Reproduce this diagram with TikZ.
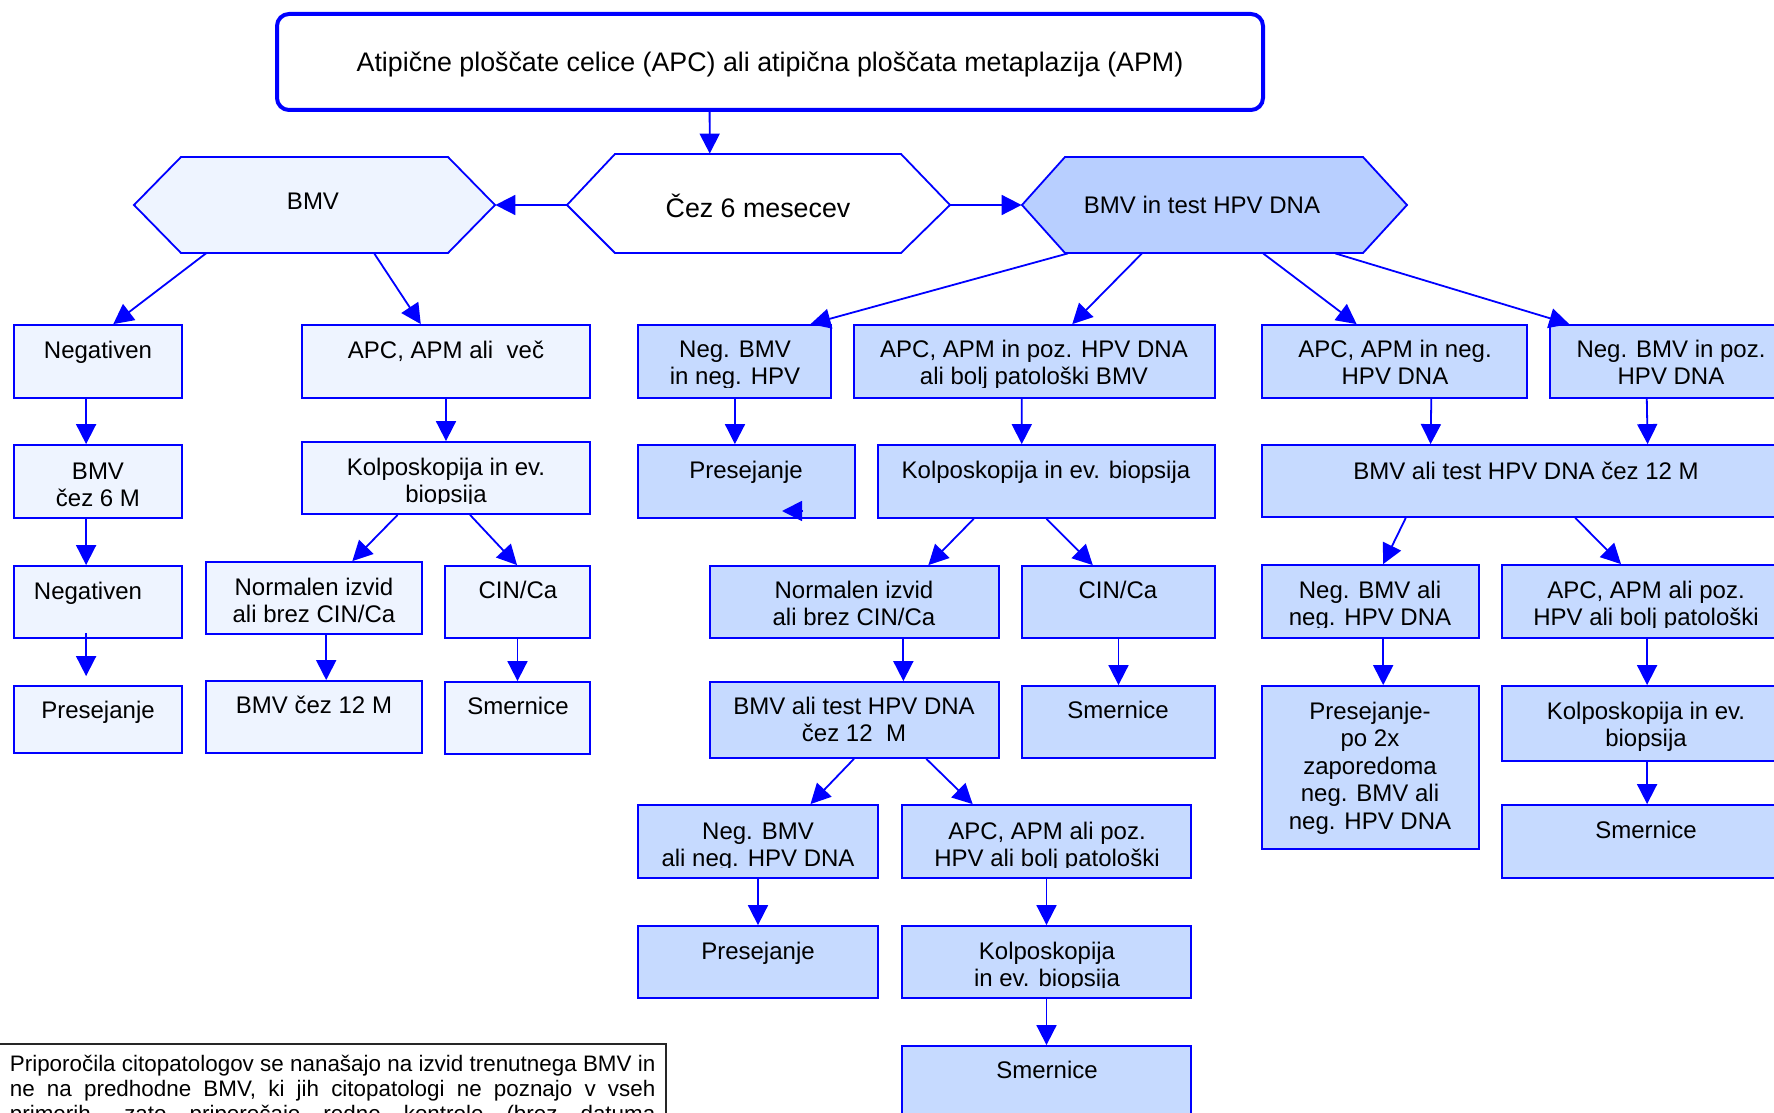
\documentclass[tikz,border=0pt]{standalone}
\usepackage{fontspec}
\setmainfont{Liberation Sans}
\usetikzlibrary{fit,calc,arrows.meta}

\definecolor{linkblue}{RGB}{0,0,255}
\definecolor{paleblue}{HTML}{EEF4FF}
\definecolor{fillblue}{HTML}{C6DAFF}
\definecolor{hexblue}{HTML}{B8CFFF}

% points along the lower / upper edge of a box
\newcommand\onS[2]{($(#1.south west)!#2!(#1.south east)$)}
\newcommand\onN[2]{($(#1.north west)!#2!(#1.north east)$)}

% text set from the top of a box, cut off at the box's inner frame
% #1 box, #2 x, #3 first baseline, #4 number of lines, #5 text
\newcommand\boxlabel[5]{%
  \begin{scope}
    \clip ([yshift=5.5pt]#1.south west) rectangle (#1.north east);
    \node[btxt] (#1txt) at (#2,{#3+(#4-1)*27.6}) {#5};
  \end{scope}}

\tikzset{
  frame/.style={draw=linkblue, line width=0.9pt, inner sep=0pt},
  palebox/.style={frame, fill=paleblue},
  bluebox/.style={frame, fill=fillblue},
  btxt/.style={font=\fontsize{12}{13.8}\selectfont, align=center, inner sep=0pt, anchor=base},
  hextxt/.style={inner sep=0pt},
  flowarrow/.style={draw=linkblue, line width=0.9pt, -{Triangle[length=10pt,width=10pt]}},
}

\begin{document}
\begin{tikzpicture}[x=0.5pt, y=-0.5pt]
\useasboundingbox (0,0) rectangle (1774,1113);
\clip (0,0) rectangle (1774,1113);

% ---------- heading ----------
\node[draw=linkblue, line width=2pt, rounded corners=6pt, fill=white, inner sep=0pt,
      fit={(277,14)(1263,110)}] (title) {};
\node[inner sep=0pt, font=\fontsize{13.4}{16}\selectfont] (titletxt) at (770,65)
  {Atipične ploščate celice (APC) ali atipična ploščata metaplazija (APM)};

% ---------- hexagons ----------
\filldraw[frame, fill=paleblue] (134,205) -- (181,157) -- (448,157) -- (495,205) -- (448,253) -- (181,253) -- cycle;
\node[inner sep=0pt, fit={(134,157)(495,253)}] (bmvhex) {};
\node[hextxt, font=\fontsize{12}{14}\selectfont] (bmvhextxt) at (313,201) {BMV};

\filldraw[frame, fill=white] (567,205) -- (615,154) -- (901,154) -- (950,205) -- (901,253) -- (615,253) -- cycle;
\node[inner sep=0pt, fit={(567,154)(950,256)}] (cezhex) {};
\node[hextxt, font=\fontsize{13.4}{16}\selectfont] (cezhextxt) at (758,206) {Čez 6 mesecev};

\filldraw[frame, fill=hexblue] (1022,205) -- (1065,157) -- (1363,157) -- (1407,205) -- (1363,253) -- (1065,253) -- cycle;
\node[inner sep=0pt, fit={(1022,157)(1407,253)}] (hpvhex) {};
\node[hextxt, font=\fontsize{12}{14}\selectfont] (hpvhextxt) at (1202,205) {BMV in test HPV DNA};

% ---------- left branch ----------
\node[palebox, fit={(14,325)(182,398)}] (neg1) {};
\node[palebox, fit={(14,445)(182,518)}] (bmv6) {};
\node[palebox, fit={(14,566)(182,638)}] (neg2) {};
\node[palebox, fit={(14,686)(182,753)}] (pres1) {};
\node[palebox, fit={(302,325)(590,398)}] (apcvec) {};
\node[palebox, fit={(302,442)(590,514)}] (kolpoL) {};
\node[palebox, fit={(206,562)(422,634)}] (normL) {};
\node[palebox, fit={(445,566)(590,638)}] (cinL) {};
\node[palebox, fit={(206,681)(422,753)}] (bmv12L) {};
\node[palebox, fit={(445,682)(590,754)}] (smerL) {};

\boxlabel{neg1}{98}{358}{1}{Negativen}
\boxlabel{bmv6}{98}{479}{2}{BMV\\čez 6 M}
\boxlabel{neg2}{88}{599}{1}{Negativen}
\boxlabel{pres1}{98}{718}{1}{Presejanje}
\boxlabel{apcvec}{446}{358}{1}{APC, APM ali\ \ več}
\boxlabel{kolpoL}{446}{475}{2}{Kolposkopija in ev.\\biopsija}
\boxlabel{normL}{314}{595}{2}{Normalen izvid\\ali brez CIN/Ca}
\boxlabel{cinL}{518}{598}{1}{CIN/Ca}
\boxlabel{bmv12L}{314}{713}{1}{BMV čez 12 M}
\boxlabel{smerL}{518}{714}{1}{Smernice}

% ---------- middle branch ----------
\node[bluebox, fit={(638,325)(831,398)}] (negHPV) {};
\node[bluebox, fit={(854,325)(1215,398)}] (apcPoz) {};
\node[bluebox, fit={(638,445)(855,518)}] (presM) {};
\node[bluebox, fit={(878,445)(1215,518)}] (kolpoM) {};
\node[bluebox, fit={(710,566)(999,638)}] (normM) {};
\node[bluebox, fit={(1022,566)(1215,638)}] (cinM) {};
\node[bluebox, fit={(710,682)(999,758)}] (bmv12M) {};
\node[bluebox, fit={(1022,686)(1215,758)}] (smerM) {};
\node[bluebox, fit={(638,805)(878,878)}] (negM2) {};
\node[bluebox, fit={(902,805)(1191,878)}] (apcM2) {};
\node[bluebox, fit={(638,926)(878,998)}] (presM2) {};
\node[bluebox, fit={(902,926)(1191,998)}] (kolpoM2) {};
\node[bluebox, fit={(902,1046)(1191,1125)}] (smerM2) {};

\boxlabel{negHPV}{735}{357}{2}{Neg. BMV\\in neg. HPV}
\boxlabel{apcPoz}{1034}{357}{2}{APC, APM in poz. HPV DNA\\ali bolj patološki BMV}
\boxlabel{presM}{746}{478}{1}{Presejanje}
\boxlabel{kolpoM}{1046}{478}{1}{Kolposkopija in ev. biopsija}
\boxlabel{normM}{854}{598}{2}{Normalen izvid\\ali brez CIN/Ca}
\boxlabel{cinM}{1118}{598}{1}{CIN/Ca}
\boxlabel{bmv12M}{854}{714}{2}{BMV ali test HPV DNA\\čez 12\ \ M}
\boxlabel{smerM}{1118}{718}{1}{Smernice}
\boxlabel{negM2}{758}{839}{2}{Neg. BMV\\ali neg. HPV DNA}
\boxlabel{presM2}{758}{959}{1}{Presejanje}
\boxlabel{apcM2}{1047}{839}{2}{APC, APM ali poz.\\HPV ali bolj patološki}
\boxlabel{kolpoM2}{1047}{959}{2}{Kolposkopija\\in ev. biopsija}
\boxlabel{smerM2}{1047}{1078}{1}{Smernice}

% ---------- right branch ----------
\node[bluebox, fit={(1262,325)(1527,398)}] (apcNeg) {};
\node[bluebox, fit={(1550,325)(1800,398)}] (negPoz) {};
\node[bluebox, fit={(1262,445)(1800,517)}] (bmv12R) {};
\node[bluebox, fit={(1262,565)(1479,638)}] (negR) {};
\node[bluebox, fit={(1502,565)(1800,638)}] (apcR) {};
\node[bluebox, fit={(1262,686)(1479,849)}] (presR) {};
\node[bluebox, fit={(1502,686)(1800,761)}] (kolpoR) {};
\node[bluebox, fit={(1502,805)(1800,878)}] (smerR) {};

\boxlabel{apcNeg}{1395}{357}{2}{APC, APM in neg.\\HPV DNA}
\boxlabel{negPoz}{1671}{357}{2}{Neg. BMV in poz.\\HPV DNA}
\boxlabel{bmv12R}{1526}{479}{1}{BMV ali test HPV DNA čez 12 M}
\boxlabel{negR}{1370}{598}{2}{Neg. BMV ali\\neg. HPV DNA}
\boxlabel{apcR}{1646}{598}{2}{APC, APM ali poz.\\HPV ali bolj patološki}
\boxlabel{presR}{1370}{719}{5}{Presejanje-\\po 2x\\zaporedoma\\neg. BMV ali\\neg. HPV DNA}
\boxlabel{kolpoR}{1646}{719}{2}{Kolposkopija in ev.\\biopsija}
\boxlabel{smerR}{1646}{838}{1}{Smernice}

% ---------- note ----------
\node[draw=black!85, line width=0.8pt, fill=white, inner sep=0pt, fit={(-5,1044)(666,1130)}] (note) {};
\node[anchor=base west, inner sep=0pt, text width=322.75pt, align=justify,
      font=\fontsize{11.2}{12.5}\selectfont] (notetxt) at (9.5,1071)
  {\tolerance=10000 Priporočila citopatologov se nanašajo na izvid trenutnega BMV in\linebreak
   ne na predhodne BMV, ki jih citopatologi ne poznajo v vseh\linebreak
   primerih, zato priporočajo redne kontrole (brez datuma\linebreak};

% ---------- connectors ----------
\draw[flowarrow] \onS{title}{0.439} -- \onN{cezhex}{0.373};
\draw[flowarrow] (cezhex.west) -- (bmvhex.east);
\draw[flowarrow] (cezhex.east) -- (hpvhex.west);

\draw[flowarrow] \onS{bmvhex}{0.20} -- \onN{neg1}{0.59};
\draw[flowarrow] \onS{bmvhex}{0.665} -- \onN{apcvec}{0.413};
\draw[flowarrow] \onS{neg1}{0.43} -- \onN{bmv6}{0.43};
\draw[flowarrow] \onS{bmv6}{0.43} -- \onN{neg2}{0.43};
\draw[flowarrow, shorten <=-3pt, shorten >=4.5pt] \onS{neg2}{0.43} -- \onN{pres1}{0.43};
\draw[flowarrow] \onS{apcvec}{0.5} -- \onN{kolpoL}{0.5};
\draw[flowarrow] \onS{kolpoL}{0.333} -- \onN{normL}{0.676};
\draw[flowarrow] \onS{kolpoL}{0.583} -- \onN{cinL}{0.497};
\draw[flowarrow] \onS{normL}{0.556} -- \onN{bmv12L}{0.556};
\draw[flowarrow] \onS{cinL}{0.5} -- \onN{smerL}{0.5};

\draw[flowarrow] \onS{hpvhex}{0.12} -- \onN{negHPV}{0.89};
\draw[flowarrow] \onS{hpvhex}{0.312} -- \onN{apcPoz}{0.604};
\draw[flowarrow] \onS{hpvhex}{0.626} -- \onN{apcNeg}{0.358};
\draw[flowarrow] \onS{hpvhex}{0.813} -- \onN{negPoz}{0.08};

\draw[flowarrow] \onS{negHPV}{0.503} -- \onN{presM}{0.447};
\draw[flowarrow] \onS{apcPoz}{0.465} -- \onN{kolpoM}{0.427};
\draw[flowarrow] \onS{kolpoM}{0.285} -- \onN{normM}{0.754};
\draw[flowarrow] \onS{kolpoM}{0.5} -- \onN{cinM}{0.368};
\draw[flowarrow] \onS{normM}{0.668} -- \onN{bmv12M}{0.668};
\draw[flowarrow] \onS{cinM}{0.5} -- \onN{smerM}{0.5};
\draw[flowarrow] \onS{bmv12M}{0.498} -- \onN{negM2}{0.717};
\draw[flowarrow] \onS{bmv12M}{0.747} -- \onN{apcM2}{0.246};
\draw[flowarrow] \onS{negM2}{0.5} -- \onN{presM2}{0.5};
\draw[flowarrow] \onS{apcM2}{0.5} -- \onN{kolpoM2}{0.5};
\draw[flowarrow] \onS{kolpoM2}{0.5} -- \onN{smerM2}{0.5};

\draw[flowarrow] \onS{apcNeg}{0.638} -- \onN{bmv12R}{0.314};
\draw[flowarrow] \onS{negPoz}{0.388} -- \onN{bmv12R}{0.716};
\draw[flowarrow] \onS{bmv12R}{0.268} -- \onN{negR}{0.558};
\draw[flowarrow] \onS{bmv12R}{0.582} -- \onN{apcR}{0.40};
\draw[flowarrow] \onS{negR}{0.558} -- \onN{presR}{0.558};
\draw[flowarrow] \onS{apcR}{0.487} -- \onN{kolpoR}{0.487};
\draw[flowarrow] \onS{kolpoR}{0.487} -- \onN{smerR}{0.487};

% loose arrow tip inside the middle "Presejanje" box
\coordinate (strayfrom) at (803,511);
\coordinate (strayto) at (782,511);
\draw[flowarrow] (strayfrom) -- (strayto);

\end{tikzpicture}
\end{document}
